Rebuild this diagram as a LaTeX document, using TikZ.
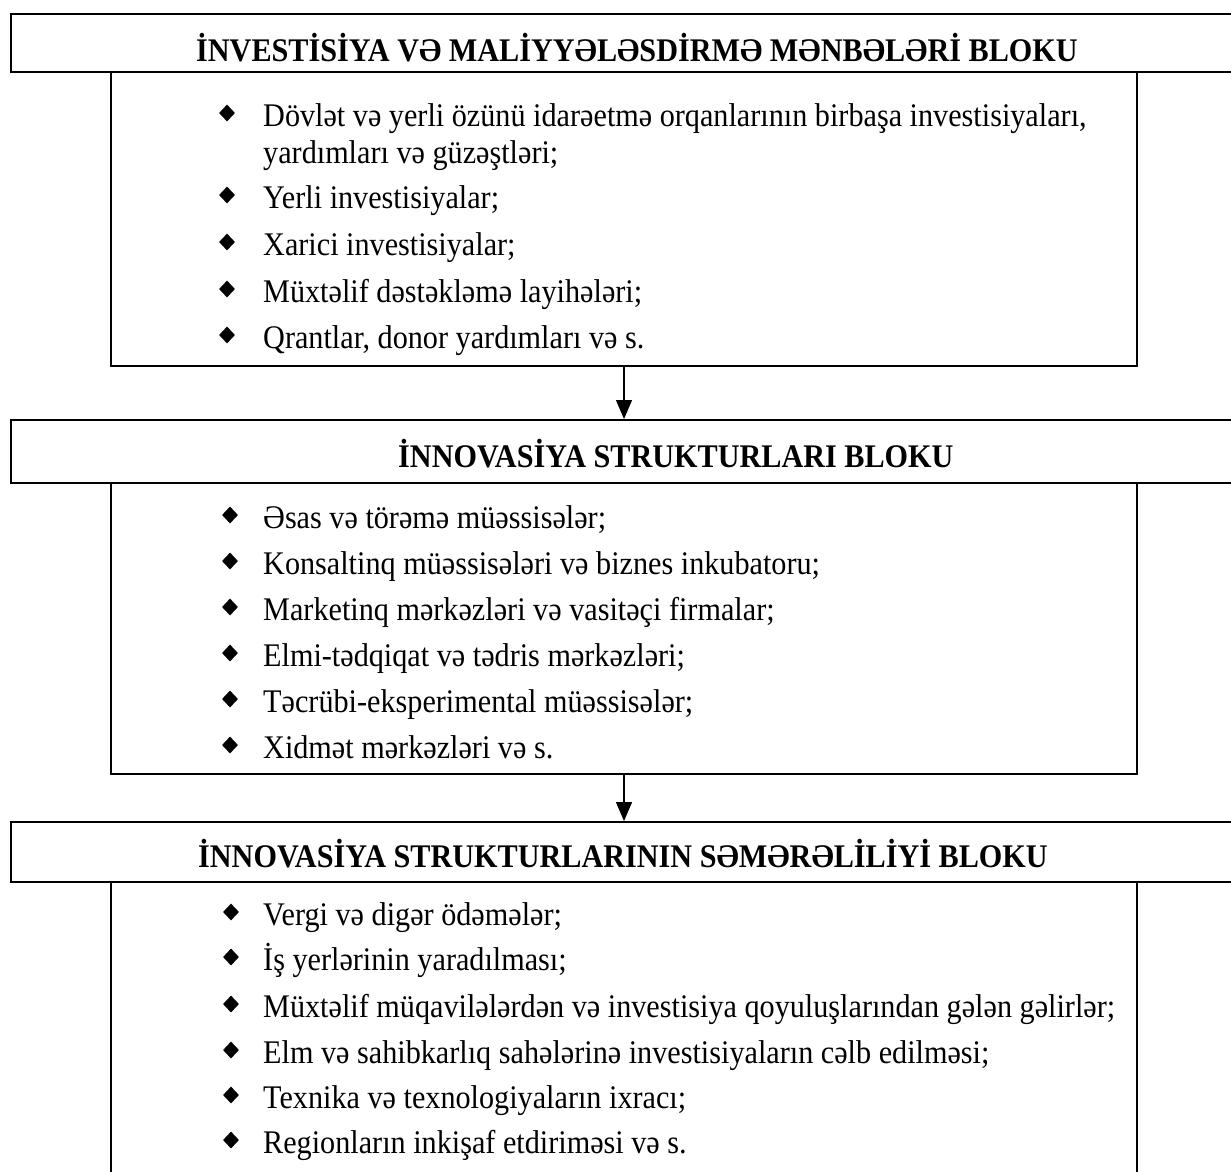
\documentclass[tikz,border=0pt]{standalone}
\usepackage{fontspec}
\setmainfont{Liberation Serif}[FakeStretch=0.915]
\usetikzlibrary{arrows.meta,shapes.geometric}
\begin{document}
\begin{tikzpicture}[x=1pt,y=-1pt,
  hdr/.style={draw, line width=2.4pt, inner sep=0pt, outer sep=0pt, anchor=north west, minimum width=1239pt},
  cbox/.style={draw, line width=2.2pt, inner sep=0pt, outer sep=0pt, anchor=north west, minimum width=1026pt},
  htxt/.style={inner sep=0pt, anchor=base west, font=\fontsize{33}{38}\selectfont\bfseries},
  txt/.style={inner sep=0pt, anchor=base west, font=\fontsize{33}{38}\selectfont},
  bul/.style={diamond, fill=black, inner sep=0pt, minimum width=16pt, minimum height=17pt},
  arr/.style={line width=1.3pt, -{Triangle[length=19pt,width=16pt]}, shorten >=1pt}]
\useasboundingbox (0,0) rectangle (1231,1171);
\clip (0,0) rectangle (1231,1171);
% boxes
\node[cbox, minimum height=294pt] (box1) at (111,72) {};
\node[hdr, minimum height=58pt] (h1) at (11,14) {};
\node[cbox, minimum height=291pt] (box2) at (111,483) {};
\node[hdr, minimum height=63pt] (h2) at (11,420) {};
\node[cbox, minimum height=320pt] (box3) at (111,882) {};
\node[hdr, minimum height=60pt] (h3) at (11,822) {};
% arrows
\draw[arr] (box1.south) -- (box1.south |- h2.north);
\draw[arr] (box2.south) -- (box2.south |- h3.north);
% headers
\node[htxt] (t1) at (196,61) {İNVESTİSİYA VƏ MALİYYƏLƏSDİRMƏ MƏNBƏLƏRİ BLOKU};
\node[htxt] (t2) at (398,467) {İNNOVASİYA STRUKTURLARI BLOKU};
\node[htxt] (t3) at (198,867) {İNNOVASİYA STRUKTURLARININ SƏMƏRƏLİLİYİ BLOKU};
% block 1
\node[bul] (b11) at (227,113) {};
\node[txt] (l11) at (263,126) {Dövlət və yerli özünü idarəetmə orqanlarının birbaşa investisiyaları,};
\node[txt] (l11b) at (263,163) {yardımları və güzəştləri;};
\node[bul] (b12) at (227,195) {};
\node[txt] (l12) at (263,208) {Yerli investisiyalar;};
\node[bul] (b13) at (227,242) {};
\node[txt] (l13) at (263,255) {Xarici investisiyalar;};
\node[bul] (b14) at (227,289) {};
\node[txt] (l14) at (263,302) {Müxtəlif dəstəkləmə layihələri;};
\node[bul] (b15) at (227,335) {};
\node[txt] (l15) at (263,348) {Qrantlar, donor yardımları və s.};
% block 2
\node[bul] (b21) at (230,515) {};
\node[txt] (l21) at (263,528) {Əsas və törəmə müəssisələr;};
\node[bul] (b22) at (230,561) {};
\node[txt] (l22) at (263,574) {Konsaltinq müəssisələri və biznes inkubatoru;};
\node[bul] (b23) at (230,607) {};
\node[txt] (l23) at (263,620) {Marketinq mərkəzləri və vasitəçi firmalar;};
\node[bul] (b24) at (230,653) {};
\node[txt] (l24) at (263,666) {Elmi-tədqiqat və tədris mərkəzləri;};
\node[bul] (b25) at (230,699) {};
\node[txt] (l25) at (263,712) {Təcrübi-eksperimental müəssisələr;};
\node[bul] (b26) at (230,745) {};
\node[txt] (l26) at (263,758) {Xidmət mərkəzləri və s.};
% block 3
\node[bul] (b31) at (231,912) {};
\node[txt] (l31) at (263,925) {Vergi və digər ödəmələr;};
\node[bul] (b32) at (231,957) {};
\node[txt] (l32) at (263,970) {İş yerlərinin yaradılması;};
\node[bul] (b33) at (231,1004) {};
\node[txt] (l33) at (263,1017) {Müxtəlif müqavilələrdən və investisiya qoyuluşlarından gələn gəlirlər;};
\node[bul] (b34) at (231,1050) {};
\node[txt] (l34) at (263,1063) {Elm və sahibkarlıq sahələrinə investisiyaların cəlb edilməsi;};
\node[bul] (b35) at (231,1095) {};
\node[txt] (l35) at (263,1108) {Texnika və texnologiyaların ixracı;};
\node[bul] (b36) at (231,1140) {};
\node[txt] (l36) at (263,1153) {Regionların inkişaf etdiriməsi və s.};
\end{tikzpicture}
\end{document}
